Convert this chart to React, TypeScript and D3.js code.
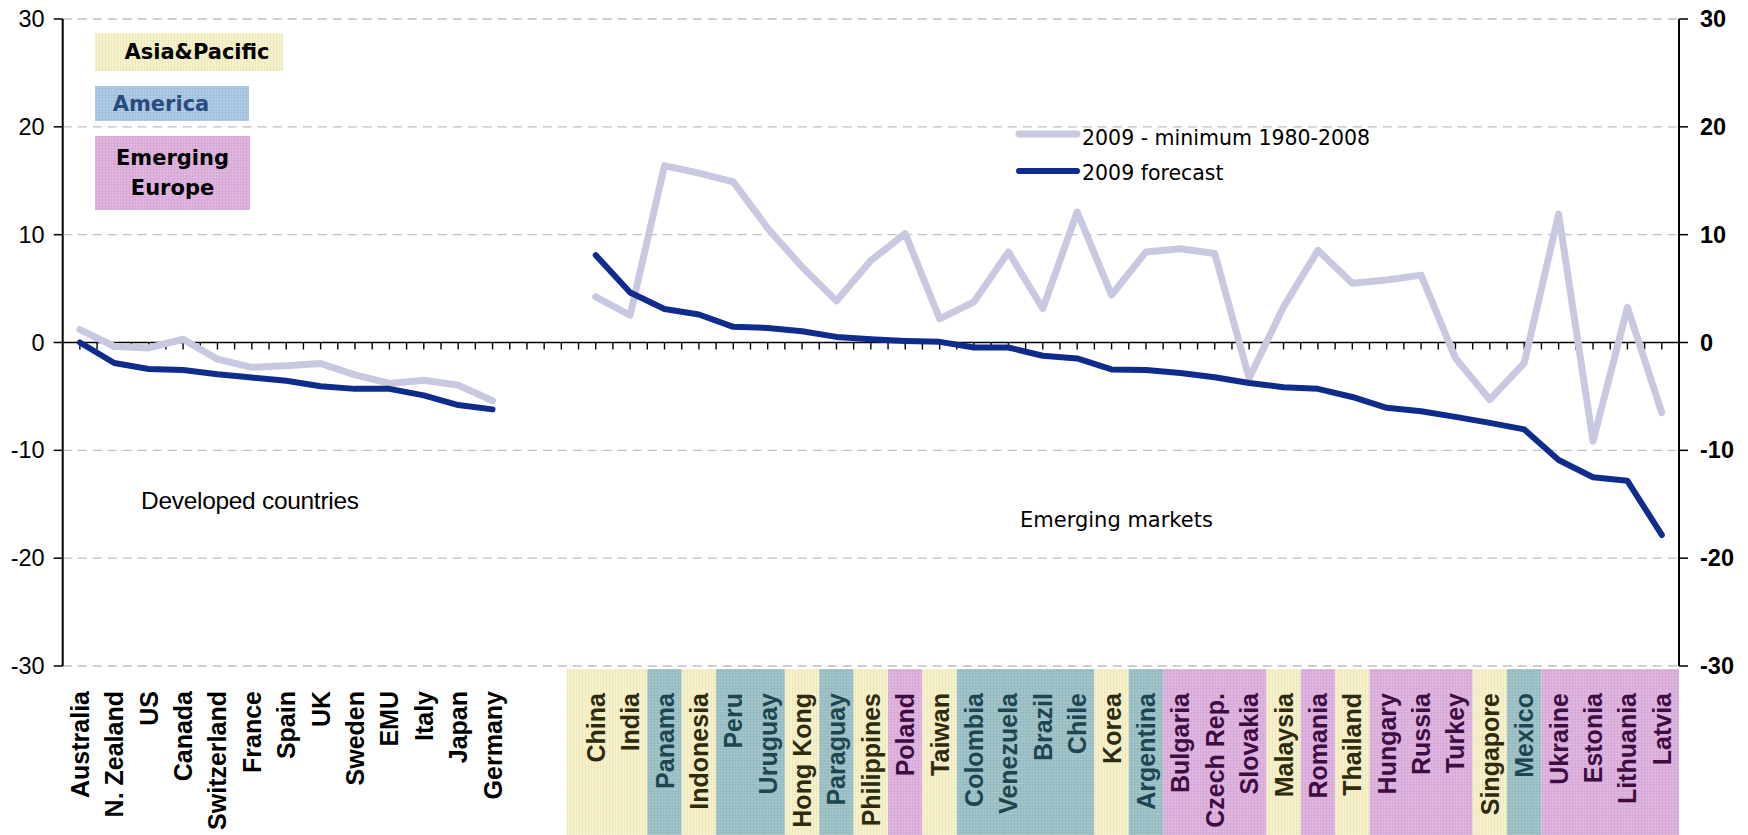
import React from 'react';
import * as d3 from 'd3';

// ---------- DATA ----------
const developed = ['Australia', 'N. Zealand', 'US', 'Canada', 'Switzerland', 'France', 'Spain', 'UK', 'Sweden', 'EMU', 'Italy', 'Japan', 'Germany'];
const devForecast = [0, -1.9, -2.45, -2.55, -2.95, -3.25, -3.55, -4.05, -4.3, -4.3, -4.9, -5.8, -6.2];
const devMinimum = [1.2, -0.35, -0.5, 0.3, -1.55, -2.3, -2.15, -1.95, -3.0, -3.8, -3.5, -3.95, -5.4];

const emerging = ['China', 'India', 'Panama', 'Indonesia', 'Peru', 'Uruguay', 'Hong Kong', 'Paraguay', 'Philippines', 'Poland', 'Taiwan', 'Colombia', 'Venezuela', 'Brazil', 'Chile', 'Korea', 'Argentina', 'Bulgaria', 'Czech Rep.', 'Slovakia', 'Malaysia', 'Romania', 'Thailand', 'Hungary', 'Russia', 'Turkey', 'Singapore', 'Mexico', 'Ukraine', 'Estonia', 'Lithuania', 'Latvia'];
// A = Asia&Pacific, M = America, E = Emerging Europe
const emergingRegion = ['A', 'A', 'M', 'A', 'M', 'M', 'A', 'M', 'A', 'E', 'A', 'M', 'M', 'M', 'M', 'A', 'M', 'E', 'E', 'E', 'A', 'E', 'A', 'E', 'E', 'E', 'A', 'M', 'E', 'E', 'E', 'E'];
const emForecast = [8.1, 4.63, 3.1, 2.6, 1.45, 1.35, 1.05, 0.52, 0.31, 0.15, 0.06, -0.46, -0.46, -1.23, -1.48, -2.5, -2.56, -2.83, -3.23, -3.75, -4.15, -4.3, -5.05, -6.06, -6.37, -6.9, -7.45, -8.06, -10.9, -12.5, -12.83, -17.85];
const emMinimum = [4.23, 2.53, 16.4, 15.7, 14.9, 10.6, 7.0, 3.86, 7.6, 10.1, 2.2, 3.77, 8.4, 3.15, 12.1, 4.4, 8.4, 8.7, 8.25, -3.3, 3.3, 8.55, 5.5, 5.8, 6.25, -1.45, -5.3, -1.9, 11.9, -9.15, 3.26, -6.5];

const gapSlots = 2;
const yTicks = [-30, -20, -10, 0, 10, 20, 30];
const seriesNames = ['2009 - minimum 1980-2008', '2009 forecast'];
const groupLabels = ['Developed countries', 'Emerging markets'];
const regionLegend = [
  { key: 'A', lines: ['Asia&Pacific'] },
  { key: 'L', lines: ['America'] },
  { key: 'E', lines: ['Emerging', 'Europe'] },
];

// ---------- STYLE ----------
const W = 1748, H = 835;
const plot = { left: 62.7, right: 1679, top: 19, bottom: 666 };
const colMin = '#C9C8E1';
const colFc = '#0F2C8C';
const regionStyle: Record<string, { fill: string; text: string }> = {
  A: { fill: '#F6F0C6', text: '#2E2A0E' },
  M: { fill: '#9ABFC5', text: '#1D4650' },
  E: { fill: '#DDAFDD', text: '#3E0C40' },
  L: { fill: '#A9C5E4', text: '#2A4C7C' },
};

type Cat = { name: string; fc: number | null; mn: number | null; region: string | null; group: 'dev' | 'em' | 'gap' };

const cats: Cat[] = [
  ...developed.map((n, i) => ({ name: n, fc: devForecast[i], mn: devMinimum[i], region: null, group: 'dev' as const })),
  ...Array.from({ length: gapSlots }, (_, i) => ({ name: `gap${i}`, fc: null, mn: null, region: null, group: 'gap' as const })),
  ...emerging.map((n, i) => ({ name: n, fc: emForecast[i], mn: emMinimum[i], region: emergingRegion[i], group: 'em' as const })),
];

export default function App() {
  const x = d3.scaleBand<string>().domain(cats.map((c) => c.name)).range([plot.left, plot.right]).padding(0);
  const bw = x.bandwidth();
  const cx = (c: Cat) => (x(c.name) as number) + bw / 2;
  const y = d3.scaleLinear().domain([-30, 30]).range([plot.bottom, plot.top]);

  const lineFc = d3.line<Cat>().defined((c) => c.fc !== null).x(cx).y((c) => y(c.fc as number));
  const lineMn = d3.line<Cat>().defined((c) => c.mn !== null).x(cx).y((c) => y(c.mn as number));

  // half-band ticks along the zero line
  const nTicks = cats.length * 2;
  const halfTicks = d3.range(1, nTicks).map((k) => plot.left + (k * bw) / 2);

  // region boxes for emerging labels (merge consecutive)
  const boxes: { x0: number; x1: number; region: string }[] = [];
  cats.forEach((c) => {
    if (c.group !== 'em' || !c.region) return;
    const x0 = x(c.name) as number;
    const last = boxes[boxes.length - 1];
    if (last && last.region === c.region && Math.abs(last.x1 - x0) < 0.5) last.x1 = x0 + bw;
    else boxes.push({ x0, x1: x0 + bw, region: c.region });
  });
  if (boxes.length) boxes[0].x0 -= 12;

  const patterns = Object.entries(regionStyle).map(([k, s]) => (
    <pattern key={k} id={`pat-${k}`} width={3} height={3} patternUnits="userSpaceOnUse">
      <rect width={3} height={3} fill={s.fill} />
      <rect width={1} height={3} fill="#000" opacity={0.04} />
      <rect width={3} height={1} fill="#fff" opacity={0.12} />
    </pattern>
  ));

  const devCats = cats.filter((c) => c.group === 'dev');
  const emCats = cats.filter((c) => c.group === 'em');
  const arial = 'Liberation Sans, Arial, sans-serif';
  const verdana = 'DejaVu Sans, Verdana, sans-serif';

  return (
    <svg width={W} height={H} style={{ position: 'absolute', left: 0, top: 0, background: '#fff' }}>
      <defs>{patterns}</defs>

      {/* gridlines */}
      {yTicks.filter((t) => t !== 0).map((t) => (
        <line key={t} x1={plot.left} x2={plot.right} y1={y(t)} y2={y(t)} stroke="#C0C0C0" strokeWidth={1.3} strokeDasharray="9,6" />
      ))}

      {/* label boxes */}
      {boxes.map((b, i) => (
        <rect key={i} x={b.x0} y={669} width={b.x1 - b.x0} height={H - 669} fill={`url(#pat-${b.region})`} />
      ))}

      {/* axes */}
      <line x1={plot.left} x2={plot.left} y1={plot.top} y2={plot.bottom} stroke="#000" strokeWidth={2} />
      <line x1={plot.right} x2={plot.right} y1={plot.top} y2={plot.bottom} stroke="#000" strokeWidth={2} />
      {yTicks.map((t) => (
        <g key={t}>
          <line x1={plot.left - 9} x2={plot.left} y1={y(t)} y2={y(t)} stroke="#000" strokeWidth={1.5} />
          <line x1={plot.right} x2={plot.right + 9} y1={y(t)} y2={y(t)} stroke="#000" strokeWidth={1.5} />
          <text x={plot.left - 18} y={y(t)} textAnchor="end" dominantBaseline="central" fontFamily={arial} fontSize={23.5} fill="#000">{t}</text>
          <text x={plot.right + 21} y={y(t)} textAnchor="start" dominantBaseline="central" fontFamily={arial} fontWeight="bold" fontSize={23.5} fill="#000">{t}</text>
        </g>
      ))}
      <line x1={plot.left} x2={plot.right} y1={y(0)} y2={y(0)} stroke="#000" strokeWidth={1.6} />
      {halfTicks.map((tx, i) => (
        <line key={i} x1={tx} x2={tx} y1={y(0)} y2={y(0) + 7} stroke="#000" strokeWidth={1.4} />
      ))}

      {/* series */}
      <path d={lineMn(cats) || ''} fill="none" stroke={colMin} strokeWidth={7} strokeLinejoin="round" strokeLinecap="round" />
      <path d={lineFc(cats) || ''} fill="none" stroke={colFc} strokeWidth={6} strokeLinejoin="round" strokeLinecap="round" />

      {/* category labels */}
      {devCats.map((c) => (
        <text key={c.name} transform={`translate(${cx(c)},691) rotate(-90)`} textAnchor="end" dominantBaseline="central"
          fontFamily={arial} fontWeight="bold" fontSize={25} fill="#000">{c.name}</text>
      ))}
      {emCats.map((c) => (
        <text key={c.name} transform={`translate(${cx(c)},693) rotate(-90)`} textAnchor="end" dominantBaseline="central"
          fontFamily={arial} fontWeight="bold" fontSize={25} fill={regionStyle[c.region as string].text}>{c.name}</text>
      ))}

      {/* group labels */}
      <text x={141} y={500} dominantBaseline="central" fontFamily={arial} fontSize={24.5} letterSpacing={-0.3} fill="#000">{groupLabels[0]}</text>
      <text x={1020} y={520} dominantBaseline="central" fontFamily={verdana} fontSize={21} fill="#000">{groupLabels[1]}</text>

      {/* series legend */}
      <line x1={1019} x2={1077} y1={134} y2={134} stroke={colMin} strokeWidth={7} strokeLinecap="round" />
      <text x={1082} y={138} dominantBaseline="central" fontFamily={verdana} fontSize={20.5} fill="#000">{seriesNames[0]}</text>
      <line x1={1019} x2={1077} y1={171} y2={171} stroke={colFc} strokeWidth={6} strokeLinecap="round" />
      <text x={1082} y={173} dominantBaseline="central" fontFamily={verdana} fontSize={20.5} fill="#000">{seriesNames[1]}</text>

      {/* region legend boxes */}
      {[
        { x0: 95, y0: 33, w: 188, h: 38 },
        { x0: 95, y0: 86, w: 154, h: 35 },
        { x0: 95, y0: 136, w: 155, h: 74 },
      ].map((b, i) => {
        const r = regionLegend[i];
        const s = regionStyle[r.key];
        const n = r.lines.length;
        return (
          <g key={r.key}>
            <rect x={b.x0} y={b.y0} width={b.w} height={b.h} fill={`url(#pat-${r.key})`} />
            {r.lines.map((ln, j) => (
              <text key={j} x={b.x0 + b.w / 2 + (i === 0 ? 8 : i === 1 ? -11 : 0)} y={b.y0 + b.h / 2 + (j - (n - 1) / 2) * 30}
                textAnchor="middle" dominantBaseline="central" fontFamily={verdana} fontWeight="bold" fontSize={21}
                fill={i === 0 || i === 2 ? '#000' : s.text}>{ln}</text>
            ))}
          </g>
        );
      })}
    </svg>
  );
}
